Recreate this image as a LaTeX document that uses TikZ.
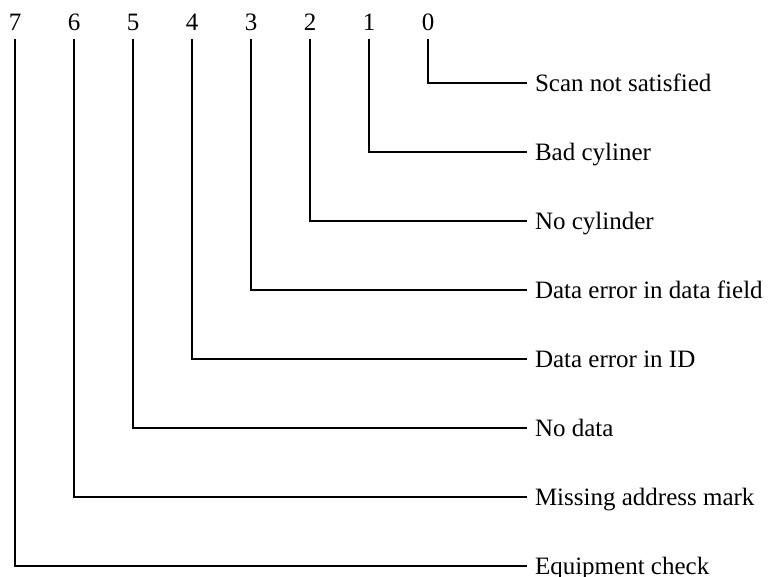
\documentclass[tikz,border=0pt]{standalone}
\usepackage{fontspec}
\setmainfont{Liberation Serif}
\usepackage{tikz}

\tikzset{
    bitnum/.style = {text height = 6.6pt, text depth = 0pt, inner sep = 3.2pt},
    cond/.style = {anchor = west, text height = 6.6pt, text depth = 0pt, inner sep = 3pt},
    leader/.style = {line width = 0.6pt}
}

\begin{document}
\begin{tikzpicture}

        \useasboundingbox (0pt, 0pt) rectangle (309.2pt, -230.4pt);

        % Bit numbers
        \node [bitnum] (bit7) at (6pt, -8.8pt) {7};
        \node [bitnum] (bit6) at (29.6pt, -8.8pt) {6};
        \node [bitnum] (bit5) at (53.2pt, -8.8pt) {5};
        \node [bitnum] (bit4) at (76.8pt, -8.8pt) {4};
        \node [bitnum] (bit3) at (100.4pt, -8.8pt) {3};
        \node [bitnum] (bit2) at (124pt, -8.8pt) {2};
        \node [bitnum] (bit1) at (147.6pt, -8.8pt) {1};
        \node [bitnum] (bit0) at (171.2pt, -8.8pt) {0};

        % Conditions
        \node [cond] (cond0) at (210.8pt, -33.2pt) {Scan not satisfied};
        \node [cond] (cond1) at (210.8pt, -60.8pt) {Bad cyliner};
        \node [cond] (cond2) at (210.8pt, -88.4pt) {No cylinder};
        \node [cond] (cond3) at (210.8pt, -116pt) {Data error in data field};
        \node [cond] (cond4) at (210.8pt, -143.6pt) {Data error in ID};
        \node [cond] (cond5) at (210.8pt, -171.2pt) {No data};
        \node [cond] (cond6) at (210.8pt, -198.8pt) {Missing address mark};
        \node [cond] (cond7) at (210.8pt, -226.4pt) {Equipment check};

        % Leaders
        \draw [leader] (bit0) |- (cond0.west);
        \draw [leader] (bit1) |- (cond1.west);
        \draw [leader] (bit2) |- (cond2.west);
        \draw [leader] (bit3) |- (cond3.west);
        \draw [leader] (bit4) |- (cond4.west);
        \draw [leader] (bit5) |- (cond5.west);
        \draw [leader] (bit6) |- (cond6.west);
        \draw [leader] (bit7) |- (cond7.west);

\end{tikzpicture}
\end{document}
